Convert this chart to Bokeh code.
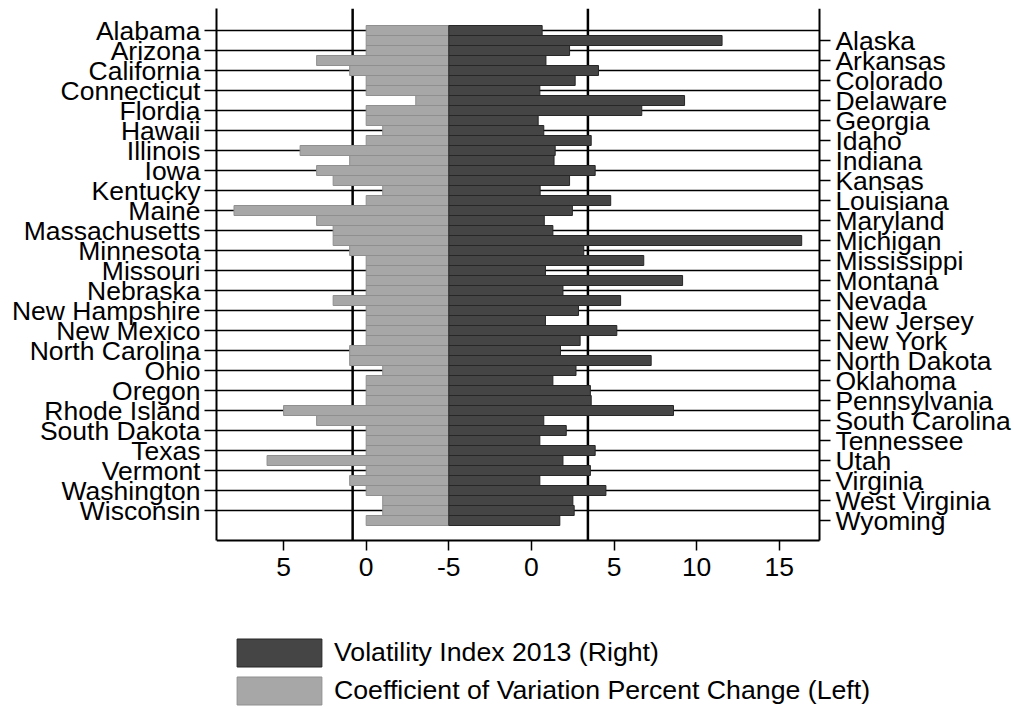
import numpy as np
from bokeh.plotting import figure
from bokeh.models import Range1d, LinearAxis, FixedTicker, Legend, LegendItem
from bokeh.embed import file_html
from bokeh.resources import INLINE

# ---- data ----
states = ["Alabama", "Alaska", "Arizona", "Arkansas", "California", "Colorado",
          "Connecticut", "Delaware", "Flordia", "Georgia", "Hawaii", "Idaho",
          "Illinois", "Indiana", "Iowa", "Kansas", "Kentucky", "Louisiana",
          "Maine", "Maryland", "Massachusetts", "Michigan", "Minnesota",
          "Mississippi", "Missouri", "Montana", "Nebraska", "Nevada",
          "New Hampshire", "New Jersey", "New Mexico", "New York",
          "North Carolina", "North Dakota", "Ohio", "Oklahoma", "Oregon",
          "Pennsylvania", "Rhode Island", "South Carolina", "South Dakota",
          "Tennessee", "Texas", "Utah", "Vermont", "Virginia", "Washington",
          "West Virginia", "Wisconsin", "Wyoming"]

volatility_2013 = [0.65, 11.54, 2.31, 0.88, 4.06, 2.65, 0.51, 9.27, 6.68, 0.41,
                   0.75, 3.62, 1.44, 1.37, 3.86, 2.31, 0.53, 4.80, 2.48, 0.78,
                   1.30, 16.36, 3.17, 6.80, 0.85, 9.15, 1.91, 5.40, 2.85, 0.85,
                   5.17, 2.95, 1.76, 7.25, 2.70, 1.30, 3.57, 3.62, 8.60, 0.75,
                   2.11, 0.51, 3.86, 1.91, 3.57, 0.51, 4.51, 2.51, 2.59, 1.72]

cv_pct_change = [0, 0, 0, 3, 1, 0, 0, -3, 0, 0,
                 -1, 0, 4, 1, 3, 2, -1, 0, 8, 3,
                 2, 2, 1, 0, 0, 0, 0, 2, 0, 0,
                 0, 0, 1, 1, -1, 0, 0, 0, 5, 3,
                 0, 0, 0, 6, 0, 1, 0, -1, -1, 0]

left_tick_values = [5, 0, -5]          # Coefficient of Variation axis (reversed)
right_tick_values = [-5, 0, 5, 10, 15]  # Volatility axis
BASE = -5                               # common axis minimum where bars start

series_names = ["Volatility Index 2013 (Right)",
                "Coefficient of Variation Percent Change (Left)"]

# ---- geometry helpers ----
rows = list(range(len(states)))
even_rows = [i for i in rows if i % 2 == 0]
odd_rows = [i for i in rows if i % 2 == 1]

def left_pos(w):
    return -(w - BASE)

def right_pos(v):
    return v - BASE

light_left = [left_pos(w) for w in cv_pct_change]
dark_right = [right_pos(v) for v in volatility_2013]

# plot-region extents (in axis units)
X_LO, X_HI = -14.06, 22.43
Y_TOP, Y_BOT = -2.2, 51.0

FONT = "Liberation Sans"
FS = "26.5px"
LEG_FS = "26.7px"
LIGHT_FILL, LIGHT_LINE = "#a7a7a7", "#8f8f8f"
DARK_FILL, DARK_LINE = "#454545", "#272727"

p = figure(width=1014, height=709, output_backend="svg", toolbar_location=None,
           x_range=Range1d(X_LO, 34.24), y_range=Range1d(67.9, Y_TOP),
           min_border_left=216, min_border_right=0,
           min_border_top=8, min_border_bottom=0)
p.outline_line_color = None
p.background_fill_color = "white"
p.border_fill_color = "white"
p.xgrid.visible = False
p.ygrid.visible = False

# horizontal rules at left-labelled rows
p.segment(x0=X_LO, x1=X_HI, y0=even_rows, y1=even_rows,
          line_color="black", line_width=1.5)

# reference lines at the means
mean_cv = float(np.mean(cv_pct_change))
mean_vol = float(np.mean(volatility_2013))
ref_x = [left_pos(mean_cv), right_pos(mean_vol)]
p.segment(x0=ref_x, x1=ref_x, y0=Y_TOP, y1=Y_BOT, line_color="black", line_width=2.5)

light = p.hbar(y=rows, left=light_left, right=0, height=1.0,
               fill_color=LIGHT_FILL, line_color=LIGHT_LINE, line_width=1)
dark = p.hbar(y=rows, left=0, right=dark_right, height=1.0,
              fill_color=DARK_FILL, line_color=DARK_LINE, line_width=1)

def style_axis(ax, tick_out, standoff):
    ax.major_tick_out = tick_out
    ax.major_tick_in = 0
    ax.minor_tick_out = 0
    ax.minor_tick_in = 0
    ax.major_tick_line_width = 1.5
    ax.axis_line_width = 2
    ax.major_label_standoff = standoff
    ax.major_label_text_font = FONT
    ax.major_label_text_font_size = FS
    ax.major_label_text_color = "black"

# left axis
ya = p.yaxis[0]
ya.ticker = FixedTicker(ticks=even_rows)
ya.major_label_overrides = {i: states[i] for i in even_rows}
ya.bounds = (Y_TOP, Y_BOT)
style_axis(ya, 12, 4)

# right axis (fixed at the right edge of the bar region)
ra = LinearAxis(ticker=FixedTicker(ticks=odd_rows),
                major_label_overrides={i: states[i] for i in odd_rows},
                fixed_location=X_HI, bounds=(Y_TOP, Y_BOT))
style_axis(ra, 11, 5)
p.add_layout(ra, "right")

# bottom axis: two scales sharing the centre
xt_pos = [left_pos(w) for w in left_tick_values] + [right_pos(v) for v in right_tick_values[1:]]
xt_lab = [str(w) for w in left_tick_values] + [str(v) for v in right_tick_values[1:]]
xa = p.xaxis[0]
xa.ticker = FixedTicker(ticks=xt_pos)
xa.major_label_overrides = {pos: lab for pos, lab in zip(xt_pos, xt_lab)}
xa.fixed_location = Y_BOT
xa.bounds = (X_LO, X_HI)
style_axis(xa, 10, 7)

# ---- legend ----
legend = Legend(items=[LegendItem(label=series_names[0], renderers=[dark]),
                       LegendItem(label=series_names[1], renderers=[light])],
                location=(10, 1.5), orientation="vertical",
                glyph_width=106, glyph_height=35, label_height=35,
                spacing=3, label_standoff=2, padding=0, margin=0,
                border_line_color=None, background_fill_alpha=0,
                label_text_font=FONT, label_text_font_size=LEG_FS,
                label_text_color="black")
p.add_layout(legend, "center")

open("out.html", "w").write(file_html(p, INLINE))
